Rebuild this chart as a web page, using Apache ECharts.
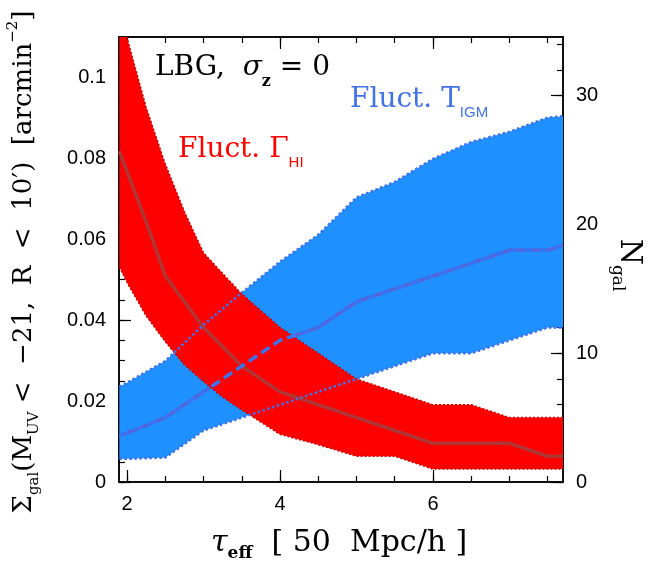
<!DOCTYPE html>
<html><head><meta charset="utf-8">
<script src="https://cdn.jsdelivr.net/npm/echarts@6/dist/echarts.min.js"></script>
<style>html,body{margin:0;padding:0;background:#fff}#c{width:647px;height:563px}</style>
</head><body><div id="c"></div>
<script>
// ---- data (N_gal) ----
const tauRed   = [1.9, 2.0, 2.25, 2.5, 2.75, 3.0, 3.25, 3.5, 4.0, 4.5, 5.0, 5.5, 6.0, 6.5, 7.0, 7.5, 7.7];
const redHigh  = [36.7, 34.5, 29.1, 24.7, 21.0, 17.8, 16.2, 14.6, 12.0, 10.0, 8.0, 7.0, 6.0, 6.0, 5.0, 5.0, 5.0];
const redMed   = [25.7, 24.1, 20.2, 16.0, 14.0, 12.0, 10.5, 9.0, 7.0, 6.0, 5.0, 4.0, 3.0, 3.0, 3.0, 2.0, 2.0];
const redLow   = [16.7, 15.5, 12.9, 10.9, 9.1, 7.8, 6.6, 5.6, 3.7, 2.9, 2.0, 2.0, 1.0, 1.0, 1.0, 1.0, 1.0];
const tauBlue  = [1.9, 2.0, 2.5, 3.0, 3.5, 4.0, 4.5, 5.0, 5.5, 6.0, 6.5, 7.0, 7.5, 7.7];
const blueHigh = [7.4, 7.7, 9.4, 12.2, 14.7, 17.1, 19.2, 22.1, 23.3, 25.1, 26.4, 27.2, 28.3, 28.4];
const blueMed  = [3.6, 3.8, 5.0, 7.0, 9.0, 11.0, 12.0, 14.0, 15.0, 16.0, 17.0, 18.0, 18.0, 18.4];
const blueLow  = [1.8, 1.8, 1.9, 4.0, 5.0, 6.0, 7.0, 8.0, 9.0, 10.0, 10.0, 11.0, 12.0, 12.0];

// ---- ticks ----
const xMajorTicks = [2, 4, 6];
const xMinorTicks = [2, 2.5, 3, 3.5, 4, 4.5, 5, 5.5, 6, 6.5, 7, 7.5];
const sigmaMajorTicks = [0, 0.02, 0.04, 0.06, 0.08, 0.1];
const sigmaMinorTicks = [0, 0.005, 0.01, 0.015, 0.02, 0.025, 0.03, 0.035, 0.04, 0.045, 0.05, 0.055, 0.06, 0.065, 0.07, 0.075, 0.08, 0.085, 0.09, 0.095, 0.1, 0.105];
const ngalMajorTicks = [0, 10, 20, 30];
const ngalMinorTicks = [0, 2, 4, 6, 8, 10, 12, 14, 16, 18, 20, 22, 24, 26, 28, 30, 32, 34];

const X_MIN = 1.895, X_MAX = 7.70, SIG_MAX = 0.11, NGAL_MAX = 34.56;
const SERIF = 'DejaVu Serif', SANS = 'Liberation Sans';

const pairs = (xs, ys) => xs.map((x, i) => [x, ys[i]]);

function band(xs, lo, hi, color, z) {
  return {
    type: 'custom', xAxisIndex: 0, yAxisIndex: 2, z: z, silent: true, clip: true,
    data: xs.map((x, i) => [x, lo[i], hi[i]]),
    encode: { x: 0, y: [1, 2] },
    renderItem: function (params, api) {
      if (params.dataIndex !== 0) return;
      const pts = [];
      for (let i = 0; i < xs.length; i++) pts.push(api.coord([xs[i], hi[i]]));
      for (let i = xs.length - 1; i >= 0; i--) pts.push(api.coord([xs[i], lo[i]]));
      const cs = params.coordSys;
      return {
        type: 'polygon', shape: { points: pts }, style: { fill: color },
        clipPath: { type: 'rect', shape: { x: cs.x, y: cs.y, width: cs.width, height: cs.height } }
      };
    }
  };
}
function line(xs, ys, color, width, type, z) {
  return {
    type: 'line', xAxisIndex: 0, yAxisIndex: 2, z: z, silent: true,
    data: pairs(xs, ys), symbol: 'none', clip: true,
    lineStyle: { color: color, width: width, type: type }
  };
}

function xAxisDef(pos, ticks, len, labels) {
  return {
    type: 'value', position: pos, min: X_MIN, max: X_MAX,
    axisLine: { show: true, onZero: false, lineStyle: { color: '#000', width: 1.5 } },
    axisTick: { show: true, inside: true, length: len, customValues: ticks, lineStyle: { color: '#000', width: 1.2 } },
    axisLabel: labels ? { show: true, customValues: labels, margin: 12, color: '#000', fontSize: 20, fontFamily: SANS } : { show: false },
    splitLine: { show: false }, minorTick: { show: false }
  };
}
function yAxisDef(pos, max, ticks, len, labels, fmt) {
  return {
    type: 'value', position: pos, min: 0, max: max,
    axisLine: { show: true, onZero: false, lineStyle: { color: '#000', width: 1.5 } },
    axisTick: { show: true, inside: true, length: len, customValues: ticks, lineStyle: { color: '#000', width: 1.2 } },
    axisLabel: labels ? { show: true, customValues: labels, margin: 13, color: '#000', fontSize: 20, fontFamily: SANS, formatter: fmt } : { show: false },
    splitLine: { show: false }, minorTick: { show: false }
  };
}

const chart = echarts.init(document.getElementById('c'), null, { renderer: 'canvas' });
chart.setOption({
  backgroundColor: '#fff',
  animation: false,
  grid: { left: 119, right: 84, top: 37, bottom: 81, containLabel: false },
  xAxis: [
    xAxisDef('bottom', xMajorTicks, 12, xMajorTicks),
    xAxisDef('bottom', xMinorTicks, 6, null),
    xAxisDef('top', xMajorTicks, 12, null),
    xAxisDef('top', xMinorTicks, 6, null)
  ],
  yAxis: [
    yAxisDef('left', SIG_MAX, sigmaMajorTicks, 12, sigmaMajorTicks, v => String(+v.toFixed(3))),
    yAxisDef('left', SIG_MAX, sigmaMinorTicks, 6, null),
    yAxisDef('right', NGAL_MAX, ngalMajorTicks, 12, ngalMajorTicks, v => String(v)),
    yAxisDef('right', NGAL_MAX, ngalMinorTicks, 6, null)
  ],
  series: [
    band(tauBlue, blueLow, blueHigh, '#1e90ff', 1),
    line(tauBlue, blueMed, '#5862d8', 3.5, 'solid', 2),
    band(tauRed, redLow, redHigh, '#ff0000', 3),
    line(tauRed, redHigh, '#c80000', 1.5, [2, 2], 4),
    line(tauRed, redLow, '#c80000', 1.5, [2, 2], 4),
    line(tauRed, redMed, '#b03636', 3.5, 'solid', 5),
    line(tauBlue, blueHigh, '#3d72ee', 2.5, [2.5, 2.5], 6),
    line(tauBlue, blueLow, '#3d72ee', 2.5, [2.5, 2.5], 6),
    line(tauBlue, blueMed, '#3d72ee', 3.5, [10, 5], 7)
  ],
  graphic: [
    { type: 'text', x: 155, y: 68, silent: true, z: 100,
      style: { text: '{m|LBG,  }{g|σ}{s|z}{m| = 0}', align: 'left', verticalAlign: 'middle',
        rich: {
          m: { fontFamily: SERIF, fontSize: 28, fill: '#000', lineHeight: 44 },
          g: { fontFamily: SERIF, fontStyle: 'italic', fontSize: 28, fill: '#000', lineHeight: 44 },
          s: { fontFamily: SERIF, fontWeight: 'bold', fontSize: 16, fill: '#000', lineHeight: 14, verticalAlign: 'bottom' }
        } } },
    { type: 'text', x: 178, y: 150, silent: true, z: 100,
      style: { text: '{m|Fluct. Γ}{s|HI}', align: 'left', verticalAlign: 'middle',
        rich: {
          m: { fontFamily: SERIF, fontSize: 28, fill: '#ff0000', lineHeight: 40 },
          s: { fontFamily: SANS, fontSize: 15, fill: '#ff0000', lineHeight: 14, verticalAlign: 'bottom' }
        } } },
    { type: 'text', x: 350, y: 100, silent: true, z: 100,
      style: { text: '{m|Fluct. T}{s|IGM}', align: 'left', verticalAlign: 'middle',
        rich: {
          m: { fontFamily: SERIF, fontSize: 28, fill: '#4472e4', lineHeight: 40 },
          s: { fontFamily: SANS, fontSize: 15, fill: '#4472e4', lineHeight: 14, verticalAlign: 'bottom' }
        } } },
    { type: 'text', x: 211, y: 543, silent: true, z: 100,
      style: { text: '{g|τ}{s|eff}{m|  [ 50  Mpc/h ]}', align: 'left', verticalAlign: 'middle',
        rich: {
          m: { fontFamily: SERIF, fontSize: 30, fill: '#000', lineHeight: 38 },
          g: { fontFamily: SERIF, fontStyle: 'italic', fontSize: 30, fill: '#000', lineHeight: 38 },
          s: { fontFamily: SERIF, fontWeight: 'bold', fontSize: 17, fill: '#000', lineHeight: 16, verticalAlign: 'bottom' }
        } } },
    { type: 'text', x: 24, y: 262, rotation: Math.PI / 2, silent: true, z: 100,
      style: { text: '{m|Σ}{s|gal}{m|(M}{s|UV}{m| <  −21,  R  <  10′)  [arcmin}{p|−2}{m|]}', align: 'center', verticalAlign: 'middle',
        rich: {
          m: { fontFamily: SERIF, fontSize: 26, fill: '#000', lineHeight: 36 },
          s: { fontFamily: SERIF, fontSize: 15, fill: '#000', lineHeight: 14, verticalAlign: 'bottom' },
          p: { fontFamily: SERIF, fontSize: 15, fill: '#000', lineHeight: 16, verticalAlign: 'top' }
        } } },
    { type: 'text', x: 629, y: 265, rotation: -Math.PI / 2, silent: true, z: 100,
      style: { text: '{m|N}{s|gal}', align: 'center', verticalAlign: 'middle',
        rich: {
          m: { fontFamily: SERIF, fontSize: 30, fill: '#000', lineHeight: 40 },
          s: { fontFamily: SERIF, fontSize: 17, fill: '#000', lineHeight: 16, verticalAlign: 'bottom' }
        } } }
  ]
});
</script></body></html>
